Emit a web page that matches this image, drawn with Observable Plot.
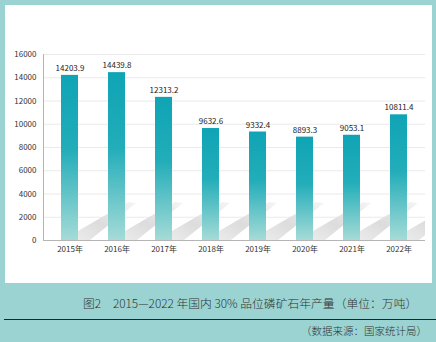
<!DOCTYPE html>
<html><head><meta charset="utf-8">
<script src="https://cdn.jsdelivr.net/npm/d3@7"></script>
<script src="https://cdn.jsdelivr.net/npm/@observablehq/plot@0.6"></script>
<style>
html,body{margin:0;padding:0;}
body{width:436px;height:342px;background:#9ad3d1;position:relative;overflow:hidden;font-family:"Noto Sans CJK SC",sans-serif;}
#panel{position:absolute;left:5px;top:5px;width:427px;height:278px;background:#fff;}
#caption{position:absolute;left:83px;top:295px;font-size:11.8px;color:#333;white-space:pre;line-height:16px;font-weight:300;}
#rule{position:absolute;left:4px;right:0;top:319px;height:1px;background:#222;}
#source{position:absolute;right:9px;top:323px;font-size:10.5px;color:#333;white-space:pre;line-height:16px;font-weight:300;}
</style></head>
<body>
<div id="panel"></div>
<div id="caption"></div>
<div id="rule"></div>
<div id="source"></div>
<script>
const years = ["2015年","2016年","2017年","2018年","2019年","2020年","2021年","2022年"];
const values = [14203.9, 14439.8, 12313.2, 9632.6, 9332.4, 8893.3, 9053.1, 10811.4];
const yTicks = [0, 2000, 4000, 6000, 8000, 10000, 12000, 14000, 16000];
const captionText = "图2　2015—2022 年国内 30% 品位磷矿石年产量（单位：万吨）";
const sourceText = "（数据来源：国家统计局）";

const data = years.map((year, i) => ({year, value: values[i]}));

function decor(index, scales, values, dims) {
  const x = scales.x, y = scales.y;
  const g = d3.create("svg:g");
  const defs = g.append("defs");
  const bg = defs.append("linearGradient").attr("id", "barGrad").attr("x1", 0).attr("y1", 0).attr("x2", 0).attr("y2", 1);
  bg.append("stop").attr("offset", "0%").attr("stop-color", "#0fa4b5");
  bg.append("stop").attr("offset", "45%").attr("stop-color", "#22adb9");
  bg.append("stop").attr("offset", "100%").attr("stop-color", "#a5dbd7");
  const sg = defs.append("linearGradient").attr("id", "shGrad").attr("x1", 0).attr("y1", 1).attr("x2", 1).attr("y2", 0);
  sg.append("stop").attr("offset", "0%").attr("stop-color", "#ebebeb");
  sg.append("stop").attr("offset", "40%").attr("stop-color", "#dcdcdc");
  sg.append("stop").attr("offset", "100%").attr("stop-color", "#f5f5f5");
  const right = dims.width - dims.marginRight;
  defs.append("clipPath").attr("id", "plotClip").append("rect")
    .attr("x", dims.marginLeft).attr("y", dims.marginTop)
    .attr("width", right - dims.marginLeft).attr("height", dims.height - dims.marginTop - dims.marginBottom);
  const y0 = y(0);
  const sh = g.append("g").attr("clip-path", "url(#plotClip)");
  for (const d of data) {
    const xr = x(d.year) + x.bandwidth();
    sh.append("polygon")
      .attr("points", [[xr, y0], [xr, y0 - 9], [xr + 50, y0 - 38], [xr + 58, y0 - 37], [xr + 12, y0]].map(p => p.join(",")).join(" "))
      .attr("fill", "url(#shGrad)");
  }
  g.append("line").attr("x1", dims.marginLeft + 0.5).attr("x2", dims.marginLeft + 0.5)
    .attr("y1", y(yTicks[yTicks.length - 1])).attr("y2", y0).attr("stroke", "#b5b5b5");
  return g.node();
}

const chart = Plot.plot({
  width: 427,
  height: 278,
  marginLeft: 38,
  marginRight: 7,
  marginTop: 49,
  marginBottom: 43,
  style: {background: "#fff", fontFamily: "'Noto Sans CJK SC', sans-serif", fontSize: "8px", color: "#333"},
  x: {domain: years, paddingInner: 0.64, paddingOuter: 0.32, tickSize: 0, tickPadding: 6, label: null},
  y: {domain: [0, 16000], ticks: yTicks, tickFormat: d => String(d), tickSize: 0, tickPadding: 7, grid: true, label: null},
  marks: [
    decor,
    Plot.barY(data, {x: "year", y: "value", fill: "url(#barGrad)"}),
    Plot.ruleY([0], {stroke: "#b5b5b5"}),
    Plot.text(data, {x: "year", y: "value", text: d => d.value.toFixed(1), dy: -7, fontSize: 8, fill: "#222"})
  ]
});
document.getElementById("panel").appendChild(chart);
document.getElementById("caption").textContent = captionText;
document.getElementById("source").textContent = sourceText;
</script>
</body></html>
